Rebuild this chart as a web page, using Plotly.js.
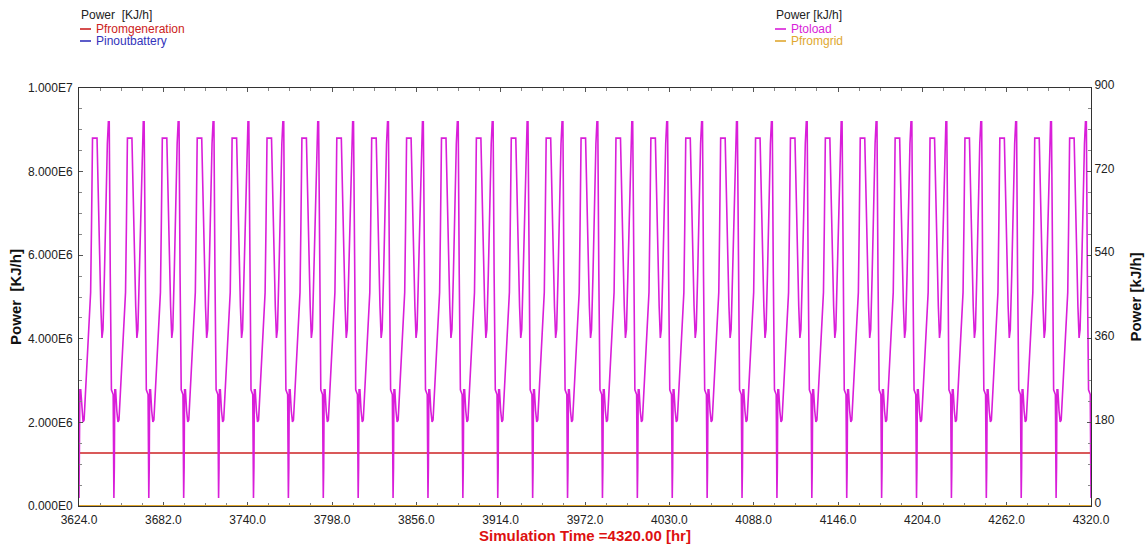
<!DOCTYPE html>
<html>
<head>
<meta charset="utf-8">
<script src="https://cdn.plot.ly/plotly-3.0.1.min.js"></script>
<style>
  html, body { margin: 0; padding: 0; background: #ffffff; }
  #chart { width: 1148px; height: 544px; }
</style>
</head>
<body>
<div id="chart"></div>
<script>
// ---------------- DATA ----------------
const START_HOUR = 3624;
const END_HOUR = 4320;
const NUM_DAYS = 29;

// One day of Ptoload (kJ/h, right axis); hours after midnight
const dayHours   = [0,  0.3, 0.6, 1.2, 2.0, 2.8, 3.5, 5.0, 6.5, 8.0, 8.6, 9.3, 12.4, 13.0, 14.0, 15.0, 15.8, 16.5, 17.5, 18.5, 19.5, 20.2, 20.8, 21.5, 22.3, 23.5];
const ptoloadDay = [17, 84,  250, 250, 205, 181, 185, 280, 370, 460, 600, 792, 792,  700,  560,  430,  362,  380,  500,  650,  780,  827,  827,  500,  250,  240];

// Constant series
const pfromgenerationValue = 1.27e6;  // left axis, KJ/h
const pinoutbatteryValue = 0;         // left axis
const pfromgridValue = 0;             // right axis

// Tick labels
const leftTickVals = [0, 2e6, 4e6, 6e6, 8e6, 1e7];
const leftTickText = ["0.000E0", "2.000E6", "4.000E6", "6.000E6", "8.000E6", "1.000E7"];
const rightTickVals = [0, 180, 360, 540, 720, 900];
const xTickVals = [3624, 3682, 3740, 3798, 3856, 3914, 3972, 4030, 4088, 4146, 4204, 4262, 4320];

// ---------------- BUILD SERIES ----------------
const tLoad = [], yLoad = [];
for (let d = 0; d < NUM_DAYS; d++) {
  for (let i = 0; i < dayHours.length; i++) {
    tLoad.push(START_HOUR + 24 * d + dayHours[i]);
    yLoad.push(ptoloadDay[i]);
  }
}
tLoad.push(END_HOUR);
yLoad.push(ptoloadDay[0]);

const tConst = [START_HOUR, END_HOUR];

const COL_RED = '#cc2222';
const COL_BLUE = '#3333bb';
const COL_MAG = '#d91ed9';
const COL_GOLD = '#e0a830';

const traces = [
  { x: tConst, y: [pfromgenerationValue, pfromgenerationValue], type: 'scatter', mode: 'lines',
    name: 'Pfromgeneration', line: { color: COL_RED, width: 1.5 }, yaxis: 'y' },
  { x: tConst, y: [pinoutbatteryValue, pinoutbatteryValue], type: 'scatter', mode: 'lines',
    name: 'Pinoutbattery', line: { color: COL_BLUE, width: 1.5 }, yaxis: 'y', cliponaxis: false },
  { x: tLoad, y: yLoad, type: 'scatter', mode: 'lines',
    name: 'Ptoload', line: { color: COL_MAG, width: 1.6 }, yaxis: 'y2' },
  { x: tConst, y: [pfromgridValue, pfromgridValue], type: 'scatter', mode: 'lines',
    name: 'Pfromgrid', line: { color: COL_GOLD, width: 2 }, yaxis: 'y2', cliponaxis: false }
];

// ---------------- LAYOUT ----------------
const L = 79, R = 1091, T = 88, B = 506;
const px = x => (x - L) / (R - L);
const py = y => (B - y) / (B - T);
const FONT = 'Arial, "Liberation Sans", sans-serif';

function legendText(text, color, x, y) {
  return { xref: 'paper', yref: 'paper', x: px(x), y: py(y), xanchor: 'left', yanchor: 'middle',
           text: text, showarrow: false, font: { family: FONT, size: 12, color: color } };
}
function legendDash(color, x, y) {
  return { type: 'line', xref: 'paper', yref: 'paper', x0: px(x), x1: px(x + 11), y0: py(y), y1: py(y),
           line: { color: color, width: 1.6 } };
}

const layout = {
  width: 1148, height: 544,
  margin: { l: L, r: 1148 - R, t: T, b: 544 - B, pad: 0 },
  paper_bgcolor: '#ffffff', plot_bgcolor: '#ffffff',
  showlegend: false,
  font: { family: FONT, size: 12, color: '#222222' },
  xaxis: {
    range: [START_HOUR, END_HOUR], tickvals: xTickVals, tickformat: '.1f',
    showgrid: false, zeroline: false, showline: true, linecolor: '#333333', linewidth: 1,
    mirror: 'ticks', ticks: 'inside', ticklen: 4, tickcolor: '#555555', layer: 'below traces',
    minor: { dtick: 14.5, tick0: 3624, ticks: 'inside', ticklen: 3, tickcolor: '#888888' },
    tickfont: { family: FONT, size: 12, color: '#222222' }, ticklabelstandoff: 3,
    title: { text: 'Simulation Time =4320.00 [hr]', standoff: 3,
             font: { family: FONT, size: 15, color: '#dd1111', weight: 'bold' } },
    automargin: false
  },
  yaxis: {
    range: [0, 1e7], tickvals: leftTickVals, ticktext: leftTickText,
    showgrid: false, zeroline: false, showline: true, linecolor: '#333333', linewidth: 1,
    ticks: 'inside', ticklen: 4, tickcolor: '#555555',
    minor: { dtick: 5e5, ticks: 'inside', ticklen: 3, tickcolor: '#888888' },
    tickfont: { family: FONT, size: 12, color: '#222222' }, ticklabelstandoff: 3,
    title: { text: 'Power  [KJ/h]', standoff: 2,
             font: { family: FONT, size: 15, color: '#111111', weight: 'bold' } },
    automargin: false
  },
  yaxis2: {
    overlaying: 'y', side: 'right', range: [0, 900], tickvals: rightTickVals,
    showgrid: false, zeroline: false, showline: true, linecolor: '#333333', linewidth: 1,
    ticks: 'inside', ticklen: 4, tickcolor: '#555555',
    minor: { dtick: 45, ticks: 'inside', ticklen: 3, tickcolor: '#888888' },
    tickfont: { family: FONT, size: 12, color: '#222222' }, ticklabelshift: -3,
    title: { text: 'Power [kJ/h]', standoff: 16,
             font: { family: FONT, size: 15, color: '#111111', weight: 'bold' } },
    automargin: false
  },
  shapes: [
    legendDash(COL_RED, 80, 29),
    legendDash(COL_BLUE, 80, 41),
    legendDash(COL_MAG, 775, 29),
    legendDash(COL_GOLD, 775, 41)
  ],
  annotations: [
    legendText('Power  [KJ/h]', '#222222', 79, 15),
    legendText('Pfromgeneration', COL_RED, 94, 29),
    legendText('Pinoutbattery', COL_BLUE, 94, 41),
    legendText('Power [kJ/h]', '#222222', 774, 15),
    legendText('Ptoload', COL_MAG, 789, 29),
    legendText('Pfromgrid', COL_GOLD, 789, 41)
  ]
};

Plotly.newPlot('chart', traces, layout, { staticPlot: true, displayModeBar: false });
</script>
</body>
</html>
